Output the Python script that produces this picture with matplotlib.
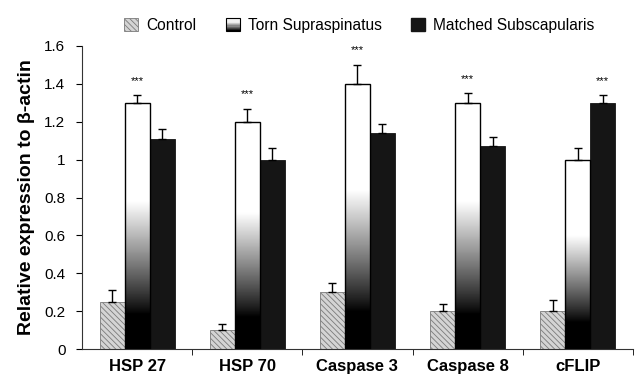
import numpy as np
import matplotlib
matplotlib.use("Agg")
import matplotlib.pyplot as plt
from matplotlib.patches import Rectangle
from matplotlib.legend_handler import HandlerBase

plt.rcParams['font.family'] = ['Liberation Sans', 'DejaVu Sans']
plt.rcParams['hatch.linewidth'] = 0.6

# data
genes = ["HSP 27", "HSP 70", "Caspase 3", "Caspase 8", "cFLIP"]
control = [0.25, 0.10, 0.30, 0.20, 0.20]
control_err = [0.06, 0.03, 0.05, 0.04, 0.06]
torn = [1.30, 1.20, 1.40, 1.30, 1.00]
torn_err = [0.04, 0.07, 0.10, 0.05, 0.06]
matched = [1.11, 1.00, 1.14, 1.07, 1.30]
matched_err = [0.05, 0.06, 0.05, 0.05, 0.04]
# which series carries the *** mark for each gene
star_on = ["torn", "torn", "torn", "torn", "matched"]

yticks = [0, 0.2, 0.4, 0.6, 0.8, 1.0, 1.2, 1.4, 1.6]
ytick_labels = ["0", "0.2", "0.4", "0.6", "0.8", "1", "1.2", "1.4", "1.6"]


def grad_values(n=256):
    # bottom black -> top white, like the torn bars
    f = np.linspace(0, 1, n)
    v = np.clip((f - 0.14) / 0.46, 0, 1)
    return v ** 0.9


class GradientHandler(HandlerBase):
    def create_artists(self, legend, orig_handle, xdescent, ydescent,
                       width, height, fontsize, trans):
        arts = []
        n = 12
        for i in range(n):
            g = min(1.0, (i / n) / 0.6) * 0.95
            r = Rectangle((-xdescent, -ydescent + height * i / n), width, height / n,
                          facecolor=(g, g, g), edgecolor='none', transform=trans)
            arts.append(r)
        arts.append(Rectangle((-xdescent, -ydescent), width, height,
                              facecolor='none', edgecolor='black', lw=0.8, transform=trans))
        return arts


fig = plt.figure(figsize=(6.36, 3.77), dpi=100)
ax = fig.add_axes([0.129, 0.074, 0.866, 0.804])

x = np.arange(len(genes)) + 0.5
w = 0.227

# control: hatched
ax.bar(x - w, control, w, color='#d4d4d4', edgecolor='#7a7a7a', hatch='\\\\\\\\\\\\',
       linewidth=0.6, zorder=2)
ax.errorbar(x - w, control, yerr=[np.zeros(len(control)), control_err], fmt='none',
            ecolor='black', elinewidth=1, capsize=3, capthick=1, zorder=3)

# torn supraspinatus: gradient filled
grad = grad_values()[:, None]
torn_bars = ax.bar(x, torn, w, facecolor='none', edgecolor='black', linewidth=1, zorder=3)
for b in torn_bars:
    bx, by = b.get_x(), b.get_y()
    ax.imshow(grad, extent=[bx, bx + b.get_width(), by, by + b.get_height()],
              origin='lower', cmap='gray', vmin=0, vmax=1, aspect='auto',
              interpolation='bilinear', zorder=2)
ax.errorbar(x, torn, yerr=[np.zeros(len(torn)), torn_err], fmt='none',
            ecolor='black', elinewidth=1, capsize=3, capthick=1, zorder=3)

# matched subscapularis: solid black
ax.bar(x + w, matched, w, color='#151515', edgecolor='#151515', linewidth=0.6, zorder=2)
ax.errorbar(x + w, matched, yerr=[np.zeros(len(matched)), matched_err], fmt='none',
            ecolor='black', elinewidth=1, capsize=3, capthick=1, zorder=3)

for i, s in enumerate(star_on):
    if s == "torn":
        xs, top = x[i], torn[i] + torn_err[i]
    else:
        xs, top = x[i] + w, matched[i] + matched_err[i]
    ax.text(xs, top + 0.05, "***", ha='center', va='bottom', fontsize=8)

ax.set_xlim(0, len(genes))
ax.set_ylim(0, 1.6)
ax.set_yticks(yticks)
ax.set_yticklabels(ytick_labels, fontsize=11)
ax.set_xticks(x)
ax.set_xticklabels(genes, fontsize=12, fontweight='bold')
ax.set_xticks(np.arange(1, len(genes) + 1), minor=True)
ax.tick_params(axis='x', which='major', length=0, pad=7)
ax.tick_params(axis='x', which='minor', length=4, direction='out')
ax.tick_params(axis='y', length=4, direction='out', pad=8)
ax.spines['top'].set_visible(False)
ax.spines['right'].set_visible(False)
ax.spines['left'].set_color('#333333')
ax.spines['bottom'].set_color('#333333')

ax.set_ylabel("Relative expression to β-actin", fontsize=14, fontweight='bold')
ax.yaxis.set_label_coords(-0.085, 0.5)

h_ctrl = Rectangle((0, 0), 1, 1, facecolor='#d4d4d4', edgecolor='#7a7a7a', hatch='\\\\\\\\\\\\', lw=0.6)
h_torn = Rectangle((0, 0), 1, 1)
h_match = Rectangle((0, 0), 1, 1, facecolor='#151515', edgecolor='#151515')
fig.legend([h_ctrl, h_torn, h_match], ["Control", "Torn Supraspinatus", "Matched Subscapularis"],
           handler_map={h_torn: GradientHandler()}, loc='upper center',
           bbox_to_anchor=(0.565, 0.99), ncol=3, frameon=False, fontsize=11.2,
           handlelength=0.9, handleheight=0.9, handletextpad=0.5, columnspacing=1.9)

fig.savefig("out.png", dpi=100)
